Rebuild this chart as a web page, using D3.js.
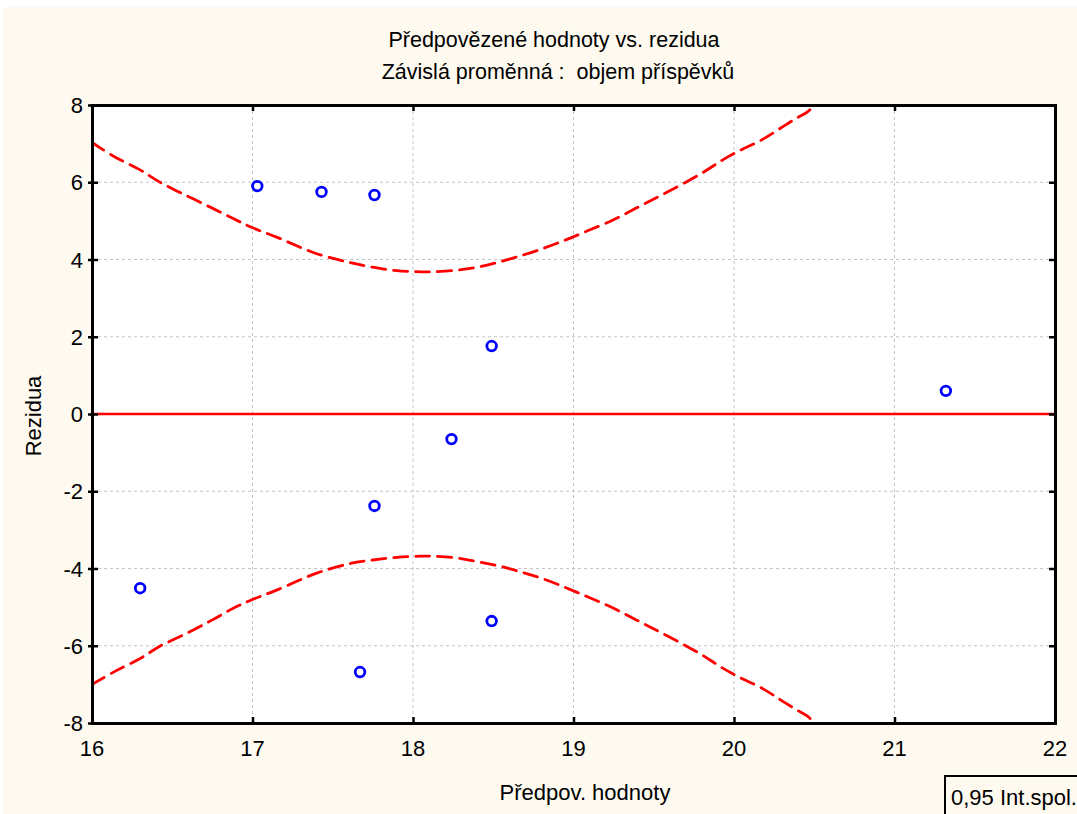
<!DOCTYPE html>
<html><head><meta charset="utf-8">
<script src="https://cdn.jsdelivr.net/npm/d3@7"></script>
<style>
html,body{margin:0;padding:0;background:#ffffff;}
text{font-family:"Liberation Sans",Arial,sans-serif;fill:#000;white-space:pre;}
</style></head><body>
<svg id="c" width="1077" height="814"></svg>
<script>
// ---- data ----
const predicted = [17.03, 17.43, 17.76, 18.49, 18.24, 17.76, 16.30, 17.67, 18.49, 21.32];
const residuals = [5.90, 5.75, 5.67, 1.76, -0.65, -2.38, -4.51, -6.68, -5.36, 0.60];
const bandX     = [16.00, 16.14, 16.30, 16.42, 16.59, 16.75, 16.88, 16.99, 17.15, 17.40, 17.61, 17.75, 17.90, 18.05, 18.12, 18.26, 18.40, 18.54, 18.69, 18.82, 18.96, 19.08, 19.25, 19.40, 19.55, 19.79, 19.93, 20.04, 20.17, 20.32, 20.39, 20.46, 20.50];
const bandUpper = [7.03, 6.66, 6.32, 6.01, 5.65, 5.33, 5.06, 4.84, 4.58, 4.15, 3.92, 3.80, 3.71, 3.68, 3.68, 3.72, 3.80, 3.94, 4.12, 4.30, 4.52, 4.73, 5.03, 5.35, 5.67, 6.21, 6.58, 6.83, 7.09, 7.48, 7.66, 7.83, 8.00];
const bandLower = [-7.00, -6.67, -6.33, -6.02, -5.68, -5.33, -5.03, -4.82, -4.56, -4.12, -3.87, -3.78, -3.71, -3.68, -3.68, -3.72, -3.82, -3.94, -4.11, -4.28, -4.51, -4.72, -5.03, -5.35, -5.67, -6.21, -6.58, -6.83, -7.09, -7.48, -7.66, -7.83, -8.00];
const zeroX = [16, 22];
const zeroY = [0, 0];
const xTicks = [16, 17, 18, 19, 20, 21, 22];
const yTicks = [-8, -6, -4, -2, 0, 2, 4, 6, 8];
const titleText = "Předpovězené hodnoty vs. rezidua";
const subtitleText = "Závislá proměnná :  objem příspěvků";
const xLabel = "Předpov. hodnoty";
const yLabel = "Rezidua";
const legendText = "0,95 Int.spol.";

// ---- layout ----
const svg = d3.select("#c");
const L = 92, R = 1055, T = 105, B = 723;
const x = d3.scaleLinear().domain([16, 22]).range([L, R]);
const y = d3.scaleLinear().domain([-8, 8]).range([B, T]);

svg.append("rect").attr("x", 3).attr("y", 7).attr("width", 1074).attr("height", 807).attr("fill", "#fefaf0");
svg.append("rect").attr("x", L).attr("y", T).attr("width", R - L).attr("height", B - T).attr("fill", "#ffffff");

svg.append("defs").append("clipPath").attr("id", "clip")
  .append("rect").attr("x", L).attr("y", T).attr("width", R - L).attr("height", B - T);

// grid
const grid = svg.append("g");
grid.selectAll(".gx").data(xTicks).join("line")
  .attr("x1", d => x(d)).attr("x2", d => x(d)).attr("y1", T).attr("y2", B)
  .attr("stroke", "#c4c4c4").attr("stroke-width", 1).attr("stroke-dasharray", "3,3");
grid.selectAll(".gy").data(yTicks).join("line")
  .attr("y1", d => y(d)).attr("y2", d => y(d)).attr("x1", L).attr("x2", R)
  .attr("stroke", "#c4c4c4").attr("stroke-width", 1).attr("stroke-dasharray", "3,3");

const plot = svg.append("g").attr("clip-path", "url(#clip)");

// zero line
plot.append("path")
  .attr("d", d3.line().x((d, i) => x(zeroX[i])).y((d, i) => y(zeroY[i]))(zeroX))
  .attr("fill", "none").attr("stroke", "#ff0000").attr("stroke-width", 2.5);

// confidence bands
const bandLine = arr => d3.line().curve(d3.curveCatmullRom)
  .x((d, i) => x(bandX[i])).y((d, i) => y(arr[i]))(bandX);
[bandUpper, bandLower].forEach(arr => {
  plot.append("path").attr("d", bandLine(arr))
    .attr("fill", "none").attr("stroke", "#ff0000").attr("stroke-width", 2.8)
    .attr("stroke-dasharray", "14,8").attr("stroke-linecap", "round");
});

// points
plot.selectAll("circle").data(predicted).join("circle")
  .attr("cx", d => x(d)).attr("cy", (d, i) => y(residuals[i])).attr("r", 4.8)
  .attr("fill", "none").attr("stroke", "#0000ff").attr("stroke-width", 2.8);

// axes frame
const axB = svg.append("g").attr("transform", `translate(0,${B})`)
  .call(d3.axisBottom(x).tickValues(xTicks).tickSize(-6).tickFormat(""));
const axT = svg.append("g").attr("transform", `translate(0,${T})`)
  .call(d3.axisTop(x).tickValues(xTicks).tickSize(-6).tickFormat(""));
const axL = svg.append("g").attr("transform", `translate(${L},0)`)
  .call(d3.axisLeft(y).tickValues(yTicks).tickSize(-6).tickFormat(""));
const axR = svg.append("g").attr("transform", `translate(${R},0)`)
  .call(d3.axisRight(y).tickValues(yTicks).tickSize(-6).tickFormat(""));
[axB, axT, axL, axR].forEach(g => {
  g.select(".domain").attr("stroke", "#000").attr("stroke-width", 3);
  g.selectAll(".tick line").attr("stroke", "#000").attr("stroke-width", 2.5);
});
axL.selectAll(".tick line").attr("x1", -4);

// tick labels
svg.selectAll(".xl").data(xTicks).join("text")
  .attr("x", d => x(d)).attr("y", 756).attr("text-anchor", "middle")
  .attr("font-size", 22).text(d => d);
svg.selectAll(".yl").data(yTicks).join("text")
  .attr("x", 83).attr("y", d => y(d) + 8).attr("text-anchor", "end")
  .attr("font-size", 22).text(d => d);

// titles
svg.append("text").attr("x", 554).attr("y", 47).attr("text-anchor", "middle").attr("font-size", 21.5).text(titleText);
svg.append("text").attr("x", 558).attr("y", 79).attr("text-anchor", "middle").attr("font-size", 21.5).text(subtitleText);
svg.append("text").attr("x", 585).attr("y", 800).attr("text-anchor", "middle").attr("font-size", 22).text(xLabel);
svg.append("text").attr("transform", "translate(41,416) rotate(-90)").attr("text-anchor", "middle").attr("font-size", 22).text(yLabel);

// legend box
svg.append("rect").attr("x", 945).attr("y", 776).attr("width", 140).attr("height", 50)
  .attr("fill", "none").attr("stroke", "#000").attr("stroke-width", 2);
svg.append("text").attr("x", 951).attr("y", 805).attr("font-size", 22).text(legendText);
</script>
</body></html>
